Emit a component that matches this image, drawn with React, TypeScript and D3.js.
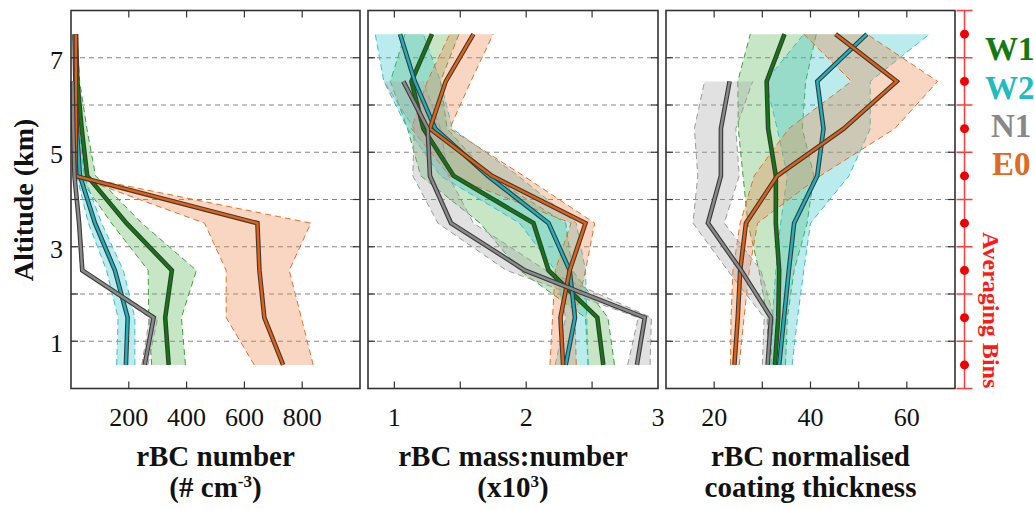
import React from 'react';
import * as d3 from 'd3';

// altitude bin centres (km)
const ALT = [0.5, 1.5, 2.5, 3.5, 4.5, 5.5, 6.5, 7.5];
const SERIES = ['W1', 'W2', 'E0', 'N1'];

// rBC number (# cm-3): mean, lower, upper per bin (N1 stops at 6.5 km)
const numW1 = [338, 326, 349, 192, 56, 37, 22, 17];
const numW1Lo = [279, 269, 267, 140, 25, 17, 15, 14];
const numW1Hi = [396, 382, 434, 245, 85, 55, 30, 20];
const numW2 = [190, 196, 152, 83, 31, 20, 15, 12];
const numW2Lo = [158, 163, 123, 60, 20, 12, 10, 9];
const numW2Hi = [221, 221, 181, 106, 45, 28, 20, 15];
const numE0 = [734, 669, 652, 645, 15, 17, 17, 17];
const numE0Lo = [634, 537, 537, 462, 12, 14, 14, 14];
const numE0Hi = [838, 797, 755, 830, 20, 20, 20, 20];
const numN1 = [255, 286, 39, 28, 12, 8, 5];
const numN1Lo = [245, 272, 33, 24, 9, 6, 4];
const numN1Hi = [266, 300, 45, 33, 15, 10, 6];

// rBC mass:number (x10^3)
const mnW1 = [2.585, 2.54, 2.17, 2.055, 1.45, 1.22, 1.13, 1.285];
const mnW1Lo = [2.47, 2.45, 1.95, 1.65, 1.2, 1.1, 0.97, 1.08];
const mnW1Hi = [2.67, 2.62, 2.35, 2.3, 1.72, 1.4, 1.35, 1.49];
const mnW2 = [2.3, 2.37, 2.33, 2.17, 1.71, 1.31, 1.155, 1.043];
const mnW2Lo = [2.22, 2.3, 2.22, 1.95, 1.35, 1.1, 0.92, 0.855];
const mnW2Hi = [2.47, 2.46, 2.45, 2.38, 1.94, 1.44, 1.35, 1.22];
const mnE0 = [2.28, 2.26, 2.33, 2.45, 1.74, 1.27, 1.39, 1.6];
const mnE0Lo = [2.18, 2.2, 2.22, 2.34, 1.42, 1.13, 1.25, 1.42];
const mnE0Hi = [2.38, 2.37, 2.45, 2.52, 1.98, 1.42, 1.58, 1.75];
const mnN1 = [2.84, 2.9, 1.99, 1.43, 1.27, 1.253, 1.068];
const mnN1Lo = [2.77, 2.85, 1.85, 1.33, 1.14, 1.15, 0.92];
const mnN1Hi = [2.94, 2.95, 2.15, 1.6, 1.41, 1.35, 1.22];

// rBC normalised coating thickness
const ctW1 = [32.6, 33.3, 33.5, 32.8, 32.8, 31.2, 30.9, 34.6];
const ctW1Lo = [31.3, 31.0, 29.3, 27.0, 26.0, 25.0, 24.9, 27.5];
const ctW1Hi = [34.8, 35.2, 36.6, 39.3, 40.7, 38.3, 39.0, 41.2];
const ctW2 = [33.5, 34.5, 35.5, 36.6, 41.4, 42.7, 41.4, 51.7];
const ctW2Lo = [31.8, 32.1, 32.8, 33.8, 35.2, 33.1, 30.7, 38.6];
const ctW2Hi = [36.2, 37.3, 38.6, 40.0, 48.0, 52.4, 52.4, 64.7];
const ctE0 = [24.2, 24.9, 25.4, 26.6, 33.1, 46.9, 57.9, 45.2];
const ctE0Lo = [23.4, 23.5, 23.9, 25.4, 28.3, 35.5, 48.5, 38.6];
const ctE0Hi = [25.2, 26.2, 27.3, 29.0, 42.0, 57.5, 66.4, 51.7];
const ctN1 = [31.1, 31.8, 25.6, 18.7, 21.4, 21.4, 23.2];
const ctN1Lo = [30.0, 30.4, 22.8, 15.6, 16.6, 15.9, 18.0];
const ctN1Hi = [31.4, 32.4, 29.7, 22.1, 25.2, 24.5, 28.0];

const numTicks = [200, 400, 600, 800];
const numLabels = ['200', '400', '600', '800'];
const mnTicks = [1, 1.5, 2, 2.5];
const mnLabels = ['1', '', '2', '', '3'];
const ctTicks = [20, 30, 40, 50, 60];
const ctLabels = ['20', '', '40', '', '60'];
const altTicks = [1, 2, 3, 4, 5, 6, 7];
const altLabels = [1, 3, 5, 7];
const binEdges = [0, 1, 2, 3, 4, 5, 6, 7, 8];

const colors = {
  W1: { fill: '#5cb85c', line: '#0b7d0b', edge: '#3f9f3f', text: '#137a13' },
  W2: { fill: '#3cc8cc', line: '#19b3c2', edge: '#3cbfc6', text: '#22bcbf' },
  E0: { fill: '#ec8a50', line: '#e8600c', edge: '#e0722c', text: '#e06a20' },
  N1: { fill: '#a8a8a8', line: '#8a8a8a', edge: '#9a9a9a', text: '#888888' },
};

const panels = [
  {
    x0: 71, x1: 360, domain: [0, 1000], ticks: numTicks, labelTicks: numTicks, labels: numLabels,
    title: 'rBC number', sub: ['(# cm', '-3', ')'],
    data: {
      W1: [numW1, numW1Lo, numW1Hi], W2: [numW2, numW2Lo, numW2Hi],
      E0: [numE0, numE0Lo, numE0Hi], N1: [numN1, numN1Lo, numN1Hi],
    },
  },
  {
    x0: 368, x1: 658, domain: [0.8, 3], ticks: mnTicks, labelTicks: [1, 1.5, 2, 2.5, 3], labels: mnLabels,
    title: 'rBC mass:number', sub: ['(x10', '3', ')'],
    data: {
      W1: [mnW1, mnW1Lo, mnW1Hi], W2: [mnW2, mnW2Lo, mnW2Hi],
      E0: [mnE0, mnE0Lo, mnE0Hi], N1: [mnN1, mnN1Lo, mnN1Hi],
    },
  },
  {
    x0: 666, x1: 955, domain: [10, 70], ticks: ctTicks, labelTicks: ctTicks, labels: ctLabels,
    title: 'rBC normalised', sub: ['coating thickness', '', ''],
    data: {
      W1: [ctW1, ctW1Lo, ctW1Hi], W2: [ctW2, ctW2Lo, ctW2Hi],
      E0: [ctE0, ctE0Lo, ctE0Hi], N1: [ctN1, ctN1Lo, ctN1Hi],
    },
  },
];

const TOP = 10.5;
const BOTTOM = 388.5;
const FONT = 'Liberation Serif';

const y = d3.scaleLinear().domain([0, 8]).range([BOTTOM, TOP]);

const Panel = ({ p }) => {
  const x = d3.scaleLinear().domain(p.domain).range([p.x0, p.x1]);
  const area = d3.area()
    .x0(d => x(d.lo))
    .x1(d => x(d.hi))
    .y(d => y(d.alt));
  const line = (key) => d3.line().x(d => x(d[key])).y(d => y(d.alt));
  const rows = s => {
    const [m, lo, hi] = p.data[s];
    return m.map((v, i) => ({ alt: ALT[i], m: v, lo: lo[i], hi: hi[i] }));
  };
  const cx = (p.x0 + p.x1) / 2;
  return (
    <g>
      {altTicks.map(a => (
        <line key={'g' + a} x1={p.x0} x2={p.x1} y1={y(a)} y2={y(a)}
          stroke="#858585" strokeWidth={1.2} strokeDasharray="5,4" />
      ))}
      {SERIES.map(s => (
        <g key={'b' + s}>
          <path d={area(rows(s))} fill={colors[s].fill} fillOpacity={0.35} stroke="none" />
          <path d={line('lo')(rows(s))} fill="none" stroke={colors[s].edge} strokeWidth={1} strokeDasharray="6,4" />
          <path d={line('hi')(rows(s))} fill="none" stroke={colors[s].edge} strokeWidth={1} strokeDasharray="6,4" />
        </g>
      ))}
      {SERIES.map(s => (
        <g key={'l' + s}>
          <path d={line('m')(rows(s))} fill="none" stroke="#3a3a3a" strokeWidth={4.6} strokeLinejoin="miter" />
          <path d={line('m')(rows(s))} fill="none" stroke={colors[s].line} strokeWidth={2.4} strokeLinejoin="miter" />
        </g>
      ))}
      <rect x={p.x0} y={TOP} width={p.x1 - p.x0} height={BOTTOM - TOP} fill="none" stroke="#333" strokeWidth={1.6} />
      {p.ticks.map(t => (
        <g key={'t' + t}>
          <line x1={x(t)} x2={x(t)} y1={TOP} y2={TOP + 7} stroke="#333" strokeWidth={1.2} />
          <line x1={x(t)} x2={x(t)} y1={BOTTOM} y2={BOTTOM - 7} stroke="#333" strokeWidth={1.2} />
        </g>
      ))}
      {altTicks.map(a => (
        <g key={'yt' + a}>
          <line x1={p.x0} x2={p.x0 + 7} y1={y(a)} y2={y(a)} stroke="#333" strokeWidth={1.2} />
          <line x1={p.x1} x2={p.x1 - 7} y1={y(a)} y2={y(a)} stroke="#333" strokeWidth={1.2} />
        </g>
      ))}
      {p.labelTicks.map((t, i) => (
        <text key={'xl' + t} x={x(t)} y={426} textAnchor="middle" fontFamily={FONT} fontSize={26} fill="#111">
          {p.labels[i]}
        </text>
      ))}
      <text x={cx} y={466} textAnchor="middle" fontFamily={FONT} fontSize={29} fontWeight="bold" fill="#111">
        {p.title}
      </text>
      <text x={cx} y={497} textAnchor="middle" fontFamily={FONT} fontSize={29} fontWeight="bold" fill="#111">
        {p.sub[0]}
        {p.sub[1] && <tspan fontSize={17} dy={-10}>{p.sub[1]}</tspan>}
        {p.sub[2] && <tspan dy={10}>{p.sub[2]}</tspan>}
      </text>
    </g>
  );
};

const App = () => {
  const redX = 964.5;
  const red = '#ff3b3b';
  const legendY = [60, 99, 137, 175];
  return (
    <svg width={1034} height={510} style={{ position: 'absolute', left: 0, top: 0, background: '#fff' }}>
      {panels.map((p, i) => <Panel key={i} p={p} />)}
      {altLabels.map(a => (
        <text key={'al' + a} x={63} y={y(a) + 11} textAnchor="end" fontFamily={FONT} fontSize={26} fill="#111">{a}</text>
      ))}
      <text transform="translate(33,200) rotate(-90)" textAnchor="middle" fontFamily={FONT} fontSize={28} fontWeight="bold" fill="#111">
        Altitude (km)
      </text>
      {/* averaging bins axis */}
      <line x1={redX} x2={redX} y1={TOP} y2={BOTTOM} stroke={red} strokeWidth={1.5} />
      {binEdges.map(b => (
        <line key={'rb' + b} x1={redX - 8} x2={redX + 8} y1={y(b)} y2={y(b)} stroke={red} strokeWidth={1.5} />
      ))}
      {ALT.map(a => (
        <circle key={'rd' + a} cx={redX} cy={y(a)} r={4.5} fill="#f00000" />
      ))}
      <text transform="translate(983,232) rotate(90)" fontFamily={FONT} fontSize={24} fontWeight="bold" fill="#ff1a1a">
        Averaging Bins
      </text>
      {['W1', 'W2', 'N1', 'E0'].map((s, i) => (
        <text key={'lg' + s} x={s === 'E0' ? 992 : s === 'N1' ? 991 : 985} y={legendY[i]} fontFamily={FONT} fontSize={33}
          fontWeight="bold" fill={colors[s].text}>{s}</text>
      ))}
    </svg>
  );
};

export default App;
